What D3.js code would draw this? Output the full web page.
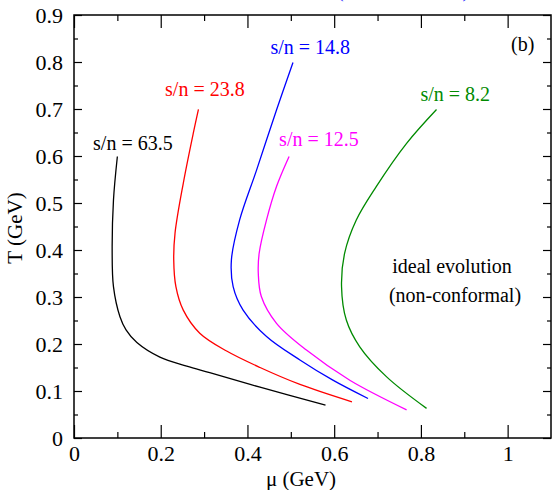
<!DOCTYPE html>
<meta charset="utf-8">
<style>
body { margin: 0; background: #fff; }
svg text { font-family: "Times New Roman", "Liberation Serif", Times, "DejaVu Serif", serif; }
.frame { fill: none; stroke: #000; stroke-width: 1.5px; }
.curve { fill: none; stroke-width: 1.3px; }
.axis path { display: none; }
.axis line { stroke: #000; stroke-width: 1.2px; }
.axis text { font-size: 22px; fill: #000; }
</style>
<body>
<svg id="chart" width="552" height="490"></svg>
<script src="https://d3js.org/d3.v7.min.js"></script>
<script>

const width = 552, height = 490
const serif = '"Times New Roman", "Liberation Serif", Times, "DejaVu Serif", serif'

// trajectories in the (mu, T) plane
const labels = ["s/n = 63.5", "s/n = 23.8", "s/n = 14.8", "s/n = 12.5", "s/n = 8.2"]
const colors = ["#000000", "#ff0000", "#0000ff", "#ff00ff", "#008a00"]

const mu63 = [0.100, 0.091, 0.088, 0.091, 0.106, 0.120, 0.145, 0.198, 0.260, 0.313, 0.429, 0.580]
const T63  = [0.599, 0.506, 0.400, 0.322, 0.258, 0.230, 0.203, 0.172, 0.153, 0.139, 0.108, 0.070]

const mu23 = [0.287, 0.275, 0.252, 0.233, 0.230, 0.235, 0.252, 0.290, 0.352, 0.429, 0.521, 0.641]
const T23  = [0.699, 0.648, 0.542, 0.436, 0.379, 0.322, 0.272, 0.223, 0.185, 0.150, 0.114, 0.077]

const mu14 = [0.505, 0.467, 0.421, 0.382, 0.363, 0.367, 0.390, 0.444, 0.521, 0.597, 0.678]
const T14  = [0.799, 0.698, 0.570, 0.464, 0.379, 0.322, 0.272, 0.216, 0.166, 0.123, 0.084]

const mu12 = [0.496, 0.467, 0.444, 0.427, 0.425, 0.432, 0.467, 0.536, 0.636, 0.767]
const T12  = [0.599, 0.535, 0.464, 0.393, 0.350, 0.301, 0.244, 0.187, 0.123, 0.060]

const mu8 = [0.836, 0.767, 0.697, 0.651, 0.624, 0.617, 0.628, 0.659, 0.721, 0.813]
const T8  = [0.699, 0.627, 0.535, 0.464, 0.393, 0.322, 0.251, 0.194, 0.130, 0.063]

const muSeries = [mu63, mu23, mu14, mu12, mu8]
const TSeries = [T63, T23, T14, T12, T8]

// label anchor (mu, T) for each curve
const labelMu = [0.044, 0.210, 0.453, 0.473, 0.799]
const labelT = [0.613, 0.727, 0.817, 0.621, 0.717]

const xMajor = [0, 0.2, 0.4, 0.6, 0.8, 1]
const xMinor = [0.1, 0.3, 0.5, 0.7, 0.9]
const yMajor = [0, 0.1, 0.2, 0.3, 0.4, 0.5, 0.6, 0.7, 0.8, 0.9]
const yMinor = [0.05, 0.15, 0.25, 0.35, 0.45, 0.55, 0.65, 0.75, 0.85]

const svg = d3.select("#chart").attr("font-family", serif)

const x = d3.scaleLinear().domain([0, 1.1]).range([74, 551])
const y = d3.scaleLinear().domain([0, 0.9]).range([438, 15])

const fmt = d3.format("~g")

// ticks point inward on all four sides
svg.append("g").attr("class", "axis").attr("transform", `translate(0,${y(0)})`)
  .call(d3.axisBottom(x).tickValues(xMajor).tickFormat(fmt).tickSizeInner(-13).tickSizeOuter(0).tickPadding(7))
svg.append("g").attr("class", "axis").attr("transform", `translate(0,${y(0)})`)
  .call(d3.axisBottom(x).tickValues(xMinor).tickFormat("").tickSizeInner(-6).tickSizeOuter(0))
svg.append("g").attr("class", "axis").attr("transform", `translate(0,${y(0.9)})`)
  .call(d3.axisTop(x).tickValues(xMajor).tickFormat("").tickSizeInner(-13).tickSizeOuter(0))
svg.append("g").attr("class", "axis").attr("transform", `translate(0,${y(0.9)})`)
  .call(d3.axisTop(x).tickValues(xMinor).tickFormat("").tickSizeInner(-6).tickSizeOuter(0))

svg.append("g").attr("class", "axis").attr("transform", `translate(${x(0)},0)`)
  .call(d3.axisLeft(y).tickValues(yMajor).tickFormat(fmt).tickSizeInner(-8).tickSizeOuter(0).tickPadding(11))
svg.append("g").attr("class", "axis").attr("transform", `translate(${x(0)},0)`)
  .call(d3.axisLeft(y).tickValues(yMinor).tickFormat("").tickSizeInner(-4).tickSizeOuter(0))
svg.append("g").attr("class", "axis").attr("transform", `translate(${x(1.1)},0)`)
  .call(d3.axisRight(y).tickValues(yMajor).tickFormat("").tickSizeInner(-8).tickSizeOuter(0))
svg.append("g").attr("class", "axis").attr("transform", `translate(${x(1.1)},0)`)
  .call(d3.axisRight(y).tickValues(yMinor).tickFormat("").tickSizeInner(-4).tickSizeOuter(0))

svg.selectAll(".axis").attr("font-family", serif)
svg.selectAll(".axis text").style("font-family", serif)

svg.append("rect").attr("class", "frame")
  .attr("x", x(0)).attr("y", y(0.9))
  .attr("width", x(1.1) - x(0)).attr("height", y(0) - y(0.9))

const line = d3.line()
  .x(d => x(d[0]))
  .y(d => y(d[1]))
  .curve(d3.curveCatmullRom.alpha(0.5))

muSeries.forEach((mu, i) => {
  svg.append("path").attr("class", "curve")
    .attr("stroke", colors[i])
    .attr("d", line(mu.map((m, j) => [m, TSeries[i][j]])))
  svg.append("text")
    .attr("x", x(labelMu[i])).attr("y", y(labelT[i]))
    .attr("font-size", 20).attr("fill", colors[i])
    .style("font-family", serif)
    .text(labels[i])
})

function note(px, py, size, str, anchor) {
  return svg.append("text").attr("x", px).attr("y", py).attr("font-size", size)
    .attr("text-anchor", anchor || "start").style("font-family", serif).text(str)
}

note(511, 51, 20, "(b)")
note(452, 273, 20, "ideal evolution", "middle")
note(455, 302, 20, "(non-conformal)", "middle")

// panel title, mostly cut off at the top edge as in the original
note(403, -3, 20, "(non-conformal)", "middle").attr("fill", "#3030ff")

note(301, 486, 21, "μ (GeV)", "middle")
svg.append("text").attr("transform", "translate(22,228) rotate(-90)").attr("font-size", 21)
  .attr("text-anchor", "middle").style("font-family", serif).text("T (GeV)")

</script>
